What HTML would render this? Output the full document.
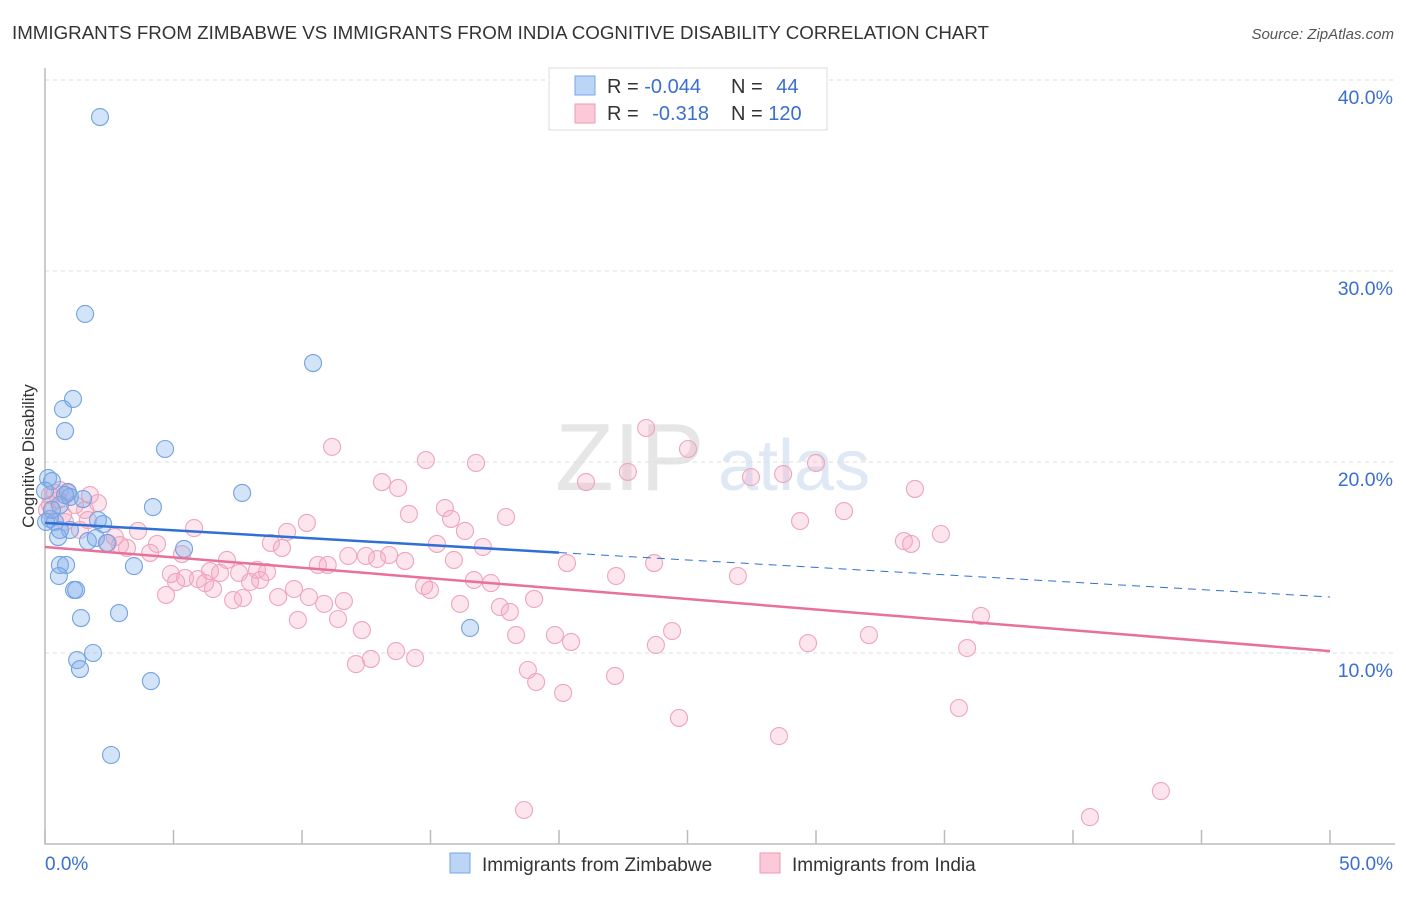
<!DOCTYPE html>
<html><head><meta charset="utf-8"><style>
body{margin:0;background:#fff;font-family:"Liberation Sans",sans-serif}
svg text{font-family:"Liberation Sans",sans-serif}
</style></head><body>
<svg id="c" width="1406" height="892" xmlns="http://www.w3.org/2000/svg">
<text x="12" y="39" font-size="18" fill="#333" textLength="977" lengthAdjust="spacingAndGlyphs">IMMIGRANTS FROM ZIMBABWE VS IMMIGRANTS FROM INDIA COGNITIVE DISABILITY CORRELATION CHART</text>
<text x="1394" y="39" font-size="15" fill="#555" text-anchor="end" font-style="italic">Source: ZipAtlas.com</text>
<text x="555" y="490" font-size="96" fill="#e6e6e6" font-family="Liberation Serif">ZIP</text>
<text x="718" y="490" font-size="72" fill="#dfe8f5">atlas</text>
<text transform="translate(34,456) rotate(-90)" font-size="17" fill="#333" text-anchor="middle">Cognitive Disability</text>
<g id="grid"></g><g id="pts"></g><g id="lines"></g>
<g>
<rect x="549" y="68" width="278" height="62" fill="#fff" stroke="#ddd"/>
<rect x="575" y="76" width="20" height="19" fill="#bcd4f5" stroke="#7aa6e6"/>
<rect x="575" y="104" width="20" height="19" fill="#fcc9d8" stroke="#eb9ab5"/>
<text x="607" y="93" font-size="20" fill="#333">R = <tspan fill="#3a6fd0">-0.044</tspan></text>
<text x="731" y="93" font-size="20" fill="#333">N = <tspan fill="#3a6fd0" dx="8">44</tspan></text>
<text x="607" y="120" font-size="20" fill="#333">R = <tspan fill="#3a6fd0" dx="8">-0.318</tspan></text>
<text x="731" y="120" font-size="20" fill="#333">N = <tspan fill="#3a6fd0">120</tspan></text>
</g>
<g>
<rect x="450" y="853" width="20" height="20" fill="#bcd4f5" stroke="#7aa6e6"/>
<text x="482" y="871" font-size="19" fill="#333">Immigrants from Zimbabwe</text>
<rect x="760" y="853" width="20" height="20" fill="#fcc9d8" stroke="#eb9ab5"/>
<text x="792" y="871" font-size="19" fill="#333">Immigrants from India</text>
</g>
</svg>
<script>
const yTicks=[10,20,30,40];
const yTickLabels=["10.0%","20.0%","30.0%","40.0%"];
const xTicks=[0,5,10,15,20,25,30,35,40,45,50];
const xEndLabels=["0.0%","50.0%"];
const zimX=[2.14,1.56,10.43,1.09,0.70,0.78,4.67,0.12,0.27,7.67,4.2,0.89,0.97,1.48,0.58,0.19,0.39,2.26,0.97,0.51,1.67,1.98,2.41,5.41,0.58,0.82,3.46,0.54,1.13,1.21,2.88,1.40,16.54,1.87,1.25,1.36,4.12,2.57,0,0.78,0.04,2.06,0.58,0.27];
const zimY=[38.06,27.75,25.18,23.3,22.77,21.62,20.68,19.16,19.0,18.38,17.64,18.43,18.17,18.06,17.75,17.02,16.86,16.75,16.44,16.07,15.86,16.02,15.76,15.45,14.61,14.61,14.55,14.03,13.3,13.3,12.09,11.83,11.31,10.0,9.63,9.16,8.53,4.66,18.5,18.27,16.86,16.96,16.44,17.5];
const indX=[11.17,23.39,25.02,14.82,16.77,22.68,30.0,28.72,27.47,21.05,13.11,13.74,33.85,15.56,14.16,17.94,15.8,31.09,29.38,10.19,16.34,34.86,5.8,9.42,33.42,33.7,15.25,17.04,8.79,9.22,3.62,4.36,3.19,4.09,5.33,11.8,12.49,13.39,12.92,14.01,7.08,10.62,11.0,15.91,20.31,23.70,8.25,8.64,6.42,6.81,7.55,4.9,5.45,5.95,6.23,7.98,8.37,5.1,6.54,9.69,14.75,14.98,16.69,17.35,22.22,26.96,4.71,9.07,7.32,7.7,10.27,10.86,11.63,16.15,19.03,17.7,18.09,9.84,11.4,12.33,36.42,24.4,32.06,18.33,19.84,20.47,23.77,29.69,35.88,13.66,14.4,12.68,12.1,18.79,19.11,22.18,20.16,35.56,24.67,28.56,18.64,43.42,40.66,0.39,0.89,0.51,1.17,1.56,2.06,0.19,0.7,1.67,0.78,1.36,2.72,2.45,2.92,0.19,0.08,0.58,1.75];
const indY=[20.79,21.78,20.68,20.1,19.95,19.48,19.95,19.37,19.21,18.95,18.95,18.64,18.59,17.59,17.28,17.12,17.02,17.43,16.91,16.81,16.39,16.23,16.54,16.34,15.86,15.71,15.71,15.55,15.76,15.5,16.39,15.71,15.5,15.24,15.18,15.08,15.08,15.13,14.92,14.82,14.87,14.61,14.61,14.87,14.71,14.71,14.35,14.24,14.29,14.19,14.19,14.14,13.93,13.87,13.66,13.72,13.82,13.72,13.35,13.35,13.51,13.3,13.82,13.66,14.03,14.03,13.04,12.93,12.77,12.88,12.93,12.57,12.72,12.57,12.83,12.41,12.15,11.73,11.78,11.2,11.94,11.15,10.94,10.94,10.94,10.58,10.42,10.52,10.26,10.1,9.74,9.69,9.42,9.11,8.48,8.8,7.91,7.12,6.6,5.65,1.78,2.77,1.41,18.38,18.38,18.01,17.75,17.49,17.85,17.75,17.23,16.96,16.86,16.44,16.07,15.76,15.65,18.27,17.49,18.53,18.27];
const zimTrend=[16.81,12.93];
const indTrend=[15.55,10.1];
const NS="http://www.w3.org/2000/svg";
const X=v=>45+v/50*1285, Y=v=>844-v*19.1;
function mk(t,a,p){const e=document.createElementNS(NS,t);for(const k in a)e.setAttribute(k,a[k]);p.appendChild(e);return e;}
const g=document.getElementById('grid');
yTicks.forEach((t,i)=>{
 const l=mk('line',{x1:45,x2:1395,y1:Y(t),y2:Y(t),stroke:'#ddd','stroke-dasharray':'4,4'},g);
 
 
 const tx=mk('text',{x:1393,y:Y(t)+24,'font-size':19.5,fill:'#3a6fd0','text-anchor':'end'},g);
 tx.textContent=yTickLabels[i];
 
 
});
const ax=mk('path',{d:'M45,68 V844 H1395',fill:'none',stroke:'#bbb','stroke-width':1.5},g);


xTicks.forEach(t=>{
 const l=mk('line',{x1:X(t),x2:X(t),y1:830,y2:844,stroke:'#bbb','stroke-width':1.5},g);
 
 
});
const xl0=mk('text',{x:45,y:870,'font-size':19,fill:'#3a6fd0'},g);xl0.textContent=xEndLabels[0];


const xl1=mk('text',{x:1393,y:870,'font-size':19,fill:'#3a6fd0','text-anchor':'end'},g);xl1.textContent=xEndLabels[1];


const p=document.getElementById('pts');
indX.forEach((x,i)=>{
 const c=mk('circle',{cx:X(x),cy:Y(indY[i]),r:8.5,fill:'rgba(245,170,195,0.3)',stroke:'#eea5bd','stroke-width':1.1},p);
 
 
});
zimX.forEach((x,i)=>{
 const c=mk('circle',{cx:X(x),cy:Y(zimY[i]),r:8.5,fill:'rgba(130,175,235,0.35)',stroke:'#73a3e2','stroke-width':1.1},p);
 
 
});
const L=document.getElementById('lines');
const zy=x=>zimTrend[0]+(zimTrend[1]-zimTrend[0])*x/50;
const l1=mk('line',{x1:X(0),y1:Y(zy(0)),x2:X(20),y2:Y(zy(20)),stroke:'#2f6fd6','stroke-width':2.5},L);


const l2=mk('line',{x1:X(20),y1:Y(zy(20)),x2:X(50),y2:Y(zy(50)),stroke:'#2f6fd6','stroke-width':1,'stroke-dasharray':'8,6'},L);


const l3=mk('line',{x1:X(0),y1:Y(indTrend[0]),x2:X(50),y2:Y(indTrend[1]),stroke:'#e8709a','stroke-width':2.5},L);


</script>
</body></html>
